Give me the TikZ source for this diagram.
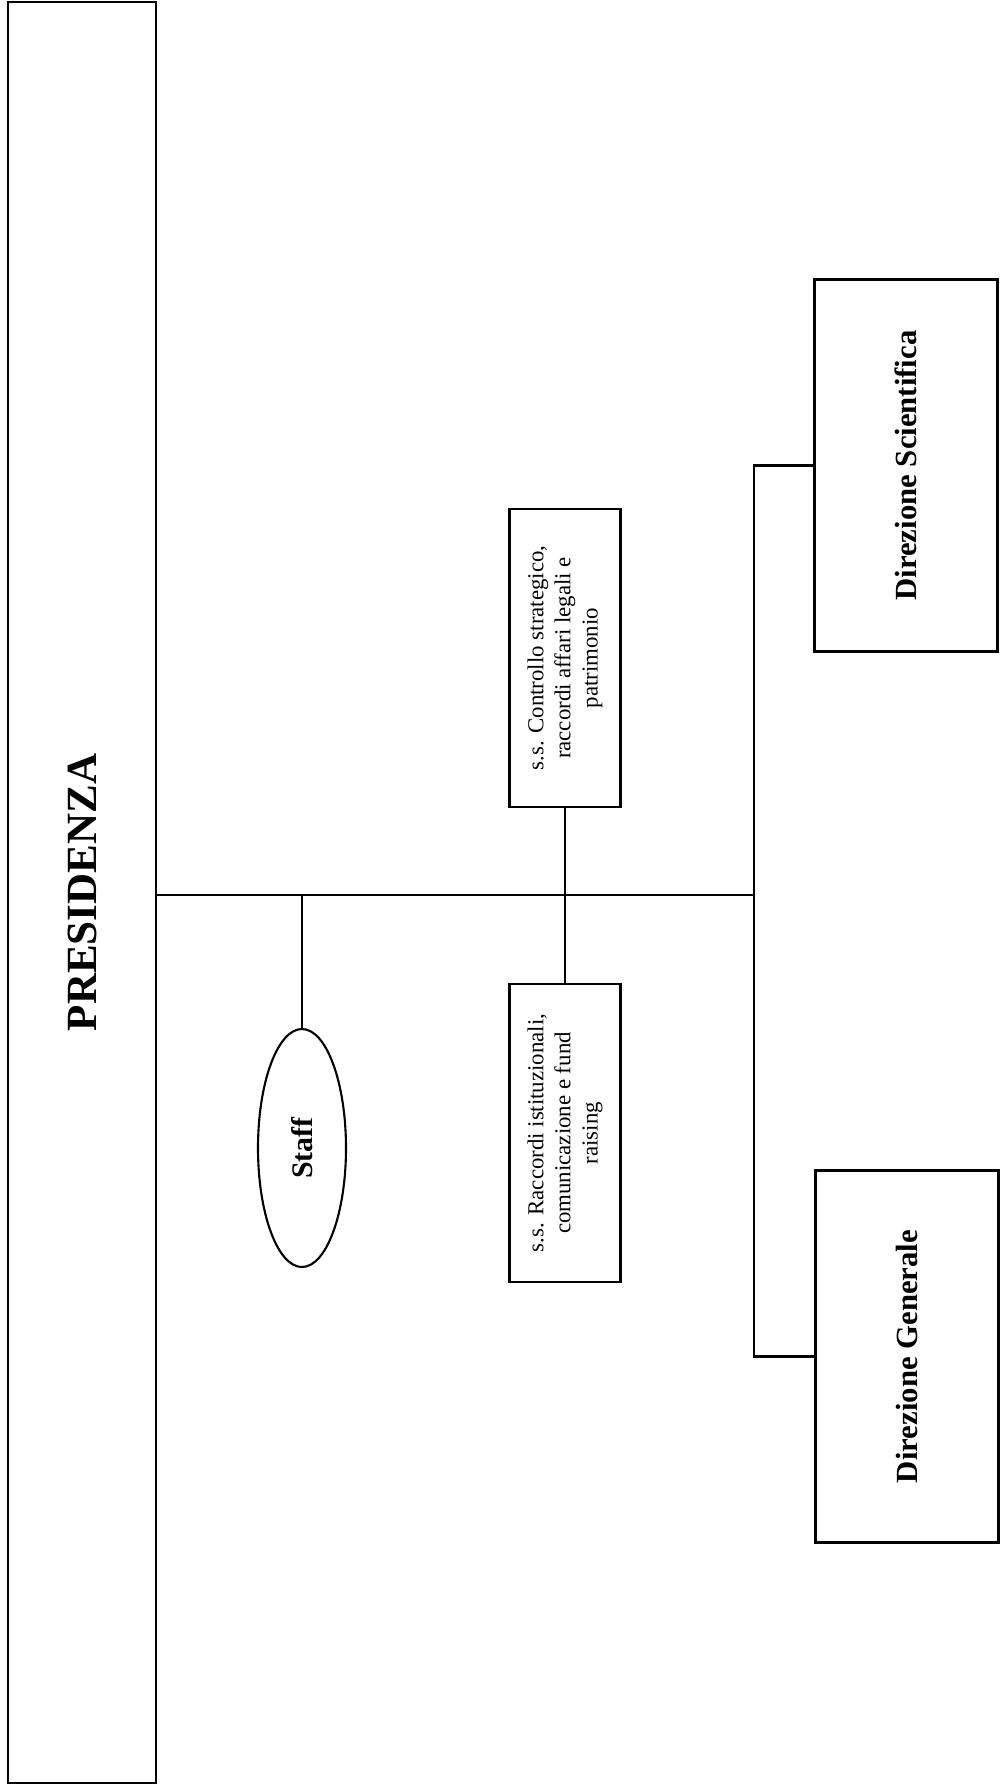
\documentclass[tikz,border=0pt]{standalone}
\usepackage{fontspec}
\setmainfont{Liberation Serif}
\usetikzlibrary{shapes.geometric}

\begin{document}
\begin{tikzpicture}[x = 0.2mm, y = -0.2mm, line width = 1.2pt,
	box/.style = {draw, rotate = 90, align = center, inner sep = 0pt},
	unit/.style = {box, minimum width = 59.6mm, minimum height = 22.2mm, font = \fontsize{13}{15.4}\selectfont},
	dir/.style = {box, minimum width = 74.4mm, minimum height = 36.6mm, font = \fontsize{17.5}{20}\selectfont\bfseries}]

\useasboundingbox (0, 0) rectangle (1000, 1787);

\node [box, minimum width = 356.2mm, minimum height = 29.6mm, font = \fontsize{24.5}{28}\selectfont\bfseries] (pres) at (82, 892.5) {PRESIDENZA};

\node [box, ellipse, minimum width = 47.6mm, minimum height = 17.6mm, font = \fontsize{17}{20}\selectfont\bfseries] (staff) at (302, 1148) {Staff};

\node [unit] (contr) at (565, 658) {s.s. Controllo strategico,\\ raccordi affari legali e\\ patrimonio};
\node [unit] (racc) at (565, 1133) {s.s. Raccordi istituzionali,\\ comunicazione e fund\\ raising};

\node [dir] (ds) at (906, 465.5) {Direzione Scientifica};
\node [dir] (dg) at (907, 1356.5) {Direzione Generale};

\coordinate (split) at (754, 895);

\draw (pres.south |- split) -- (split);
\draw (staff.east) -- (staff.east |- split);
\draw (contr.west) -- (racc.east);
\draw (ds.north) -| (split) |- (dg.north);

\end{tikzpicture}
\end{document}
